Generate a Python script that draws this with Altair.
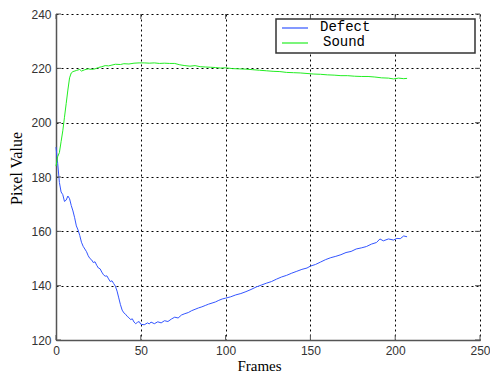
import altair as alt
import pandas as pd

defect_frames = [0, 1, 2, 3, 4, 5, 6, 7, 8, 9, 10, 11, 12, 13, 14, 15, 16, 17, 18, 19, 20,
                 21, 22, 23, 24, 25, 26, 27, 28, 29, 30, 31, 32, 33, 34, 35, 36, 37, 38, 39, 40,
                 41, 42, 43, 44, 45, 46, 47, 48, 49, 50, 52, 54, 55, 56, 58, 60, 62, 64, 66, 68,
                 70, 72, 74, 76, 78, 80, 82, 84, 86, 88, 90, 92, 94, 96, 98, 100, 103, 106, 109,
                 112, 115, 118, 121, 124, 127, 130, 133, 136, 139, 142, 145, 148, 150, 153, 156,
                 159, 162, 165, 168, 171, 174, 177, 180, 183, 186, 189, 191, 193, 196, 199, 201,
                 203, 205, 207]
defect_values = [191, 185, 178, 174.5, 173.5, 171, 171.5, 173, 172, 169.5, 167.5, 165, 162, 160.5,
                 158.5, 156, 154.5, 153.5, 152.5, 151, 150, 149.5, 148.5, 148.8, 147.5, 146.5,
                 146.2, 145, 144, 143.5, 143.6, 142.5, 141.5, 141.8, 140.8, 139.8, 138, 135.5,
                 133, 131, 130, 129.5, 128.7, 128.2, 127.5, 127.8, 126.6, 126, 126.5, 126.8,
                 125.8, 125.6, 126.3, 125.9, 126.6, 126, 126.7, 126.3, 127.1, 126.8, 127.7,
                 128.4, 128.1, 129.2, 129.7, 130.1, 130.8, 131.3, 131.8, 132.2, 132.7, 133.2,
                 133.6, 134, 134.6, 135.1, 135.4, 135.9, 136.6, 137.1, 137.8, 138.6, 139.5,
                 140.2, 140.9, 141.5, 142.4, 143.2, 143.8, 144.6, 145.3, 146, 146.5, 147.2,
                 147.8, 148.7, 149.6, 150.3, 150.8, 151.4, 152.2, 152.6, 153.5, 153.9, 154.4,
                 155.3, 155.9, 157.2, 156.5, 157.2, 156.8, 157.4, 157.3, 158.3, 158]

sound_frames = [0, 1, 2, 3, 4, 5, 6, 7, 8, 9, 10, 12, 14, 15, 17, 19, 21, 23, 25, 27, 29, 31, 33,
                35, 38, 40, 43, 46, 49, 52, 55, 58, 61, 64, 67, 70, 73, 76, 79, 82, 85, 88, 91,
                94, 97, 100, 104, 108, 112, 116, 120, 124, 128, 132, 136, 140, 144, 148, 152,
                156, 160, 164, 168, 172, 176, 180, 184, 188, 192, 196, 199, 202, 205, 207]
sound_values = [184, 187.5, 189, 193, 197, 202, 207, 212, 216.5, 218.3, 218.8, 219.2, 219.6, 219,
                219.5, 219.8, 219.6, 219.8, 220.3, 220.6, 221, 220.9, 221.2, 221.5, 221.4, 221.7,
                221.6, 221.9, 222, 222, 221.9, 222, 221.8, 221.9, 221.8, 221.8, 221.3, 221,
                220.8, 221.0, 220.6, 220.5, 220.4, 220.3, 220.1, 220.2, 219.9, 219.8, 219.7,
                219.5, 219.3, 219.1, 218.9, 218.8, 218.5, 218.4, 218.3, 218.1, 217.9, 217.8,
                217.6, 217.5, 217.3, 217.3, 217.1, 217.0, 217.0, 216.8, 216.5, 216.4, 216.1,
                216.4, 216.2, 216.3]

series_names = ["Defect", "Sound"]
series_colors = ["#3355ff", "#22ee22"]
x_ticks = [0, 50, 100, 150, 200, 250]
y_ticks = [120, 140, 160, 180, 200, 220, 240]

df = pd.concat([
    pd.DataFrame({"frame": defect_frames, "value": defect_values, "series": "Defect"}),
    pd.DataFrame({"frame": sound_frames, "value": sound_values, "series": "Sound"}),
])

W, H = 424, 326

xscale = alt.Scale(domain=[0, 250], nice=False)
yscale = alt.Scale(domain=[120, 240], nice=False)
xaxis = alt.Axis(values=x_ticks, title="Frames", titleX=203)
yaxis = alt.Axis(values=y_ticks, title="Pixel Value", titleY=154, titleFontSize=16)

lines = alt.Chart(df).mark_line(strokeWidth=1).encode(
    x=alt.X("frame:Q", scale=xscale, axis=xaxis),
    y=alt.Y("value:Q", scale=yscale, axis=yaxis),
    color=alt.Color("series:N", scale=alt.Scale(domain=series_names, range=series_colors),
                    legend=None),
    detail="series:N",
)

xt = pd.DataFrame({"frame": x_ticks})
yt = pd.DataFrame({"value": y_ticks})
tick_col = "#555555"
xt_bottom = alt.Chart(xt).mark_rule(color=tick_col).encode(
    x=alt.X("frame:Q", scale=xscale, axis=xaxis), y=alt.value(H), y2=alt.value(H - 5))
xt_top = alt.Chart(xt).mark_rule(color=tick_col).encode(
    x=alt.X("frame:Q", scale=xscale, axis=xaxis), y=alt.value(0), y2=alt.value(5))
yt_left = alt.Chart(yt).mark_rule(color=tick_col).encode(
    y=alt.Y("value:Q", scale=yscale, axis=yaxis), x=alt.value(0), x2=alt.value(5))
yt_right = alt.Chart(yt).mark_rule(color=tick_col).encode(
    y=alt.Y("value:Q", scale=yscale, axis=yaxis), x=alt.value(W), x2=alt.value(W - 5))

leg_df = pd.DataFrame({"series": series_names})
leg_box = alt.Chart(leg_df.head(1)).mark_rect(fill="white", stroke="#333333", strokeWidth=1.5).encode(
    x=alt.value(220), x2=alt.value(419), y=alt.value(5), y2=alt.value(39))
leg_layers = []
for i, (name, col) in enumerate(zip(series_names, series_colors)):
    d = pd.DataFrame({"series": [name]})
    ly = 14 + 15 * i
    leg_layers.append(alt.Chart(d).mark_rule(color=col, strokeWidth=1.2).encode(
        x=alt.value(226), x2=alt.value(252), y=alt.value(ly)))
    leg_layers.append(alt.Chart(d).mark_text(
        align="left", baseline="middle", font="Liberation Mono", fontSize=14, color="black").encode(
        x=alt.value(264 if i == 0 else 267), y=alt.value(ly - 1), text="series:N"))

chart = alt.layer(
    lines, xt_bottom, xt_top, yt_left, yt_right, leg_box, *leg_layers
).properties(
    width=W, height=H,
    autosize=alt.AutoSizeParams(type="none"),
    padding={"left": 48, "top": 6, "right": 10, "bottom": 34},
).configure_view(stroke=None).configure_axis(
    domainColor="#555555", domainWidth=1.5,
    grid=True, gridColor="black", gridDash=[2, 3], gridOpacity=1, gridWidth=1,
    tickSize=0, labelFont="Liberation Sans", labelFontSize=12, labelColor="#333333",
    labelPadding=5, labelFlush=False,
    titleFont="Liberation Serif", titleFontSize=15, titleFontWeight="normal", titleColor="black",
).configure_axisX(titlePadding=2).configure_axisY(titlePadding=6)

chart.save("out.html", embed_options={"renderer": "svg", "actions": False})
